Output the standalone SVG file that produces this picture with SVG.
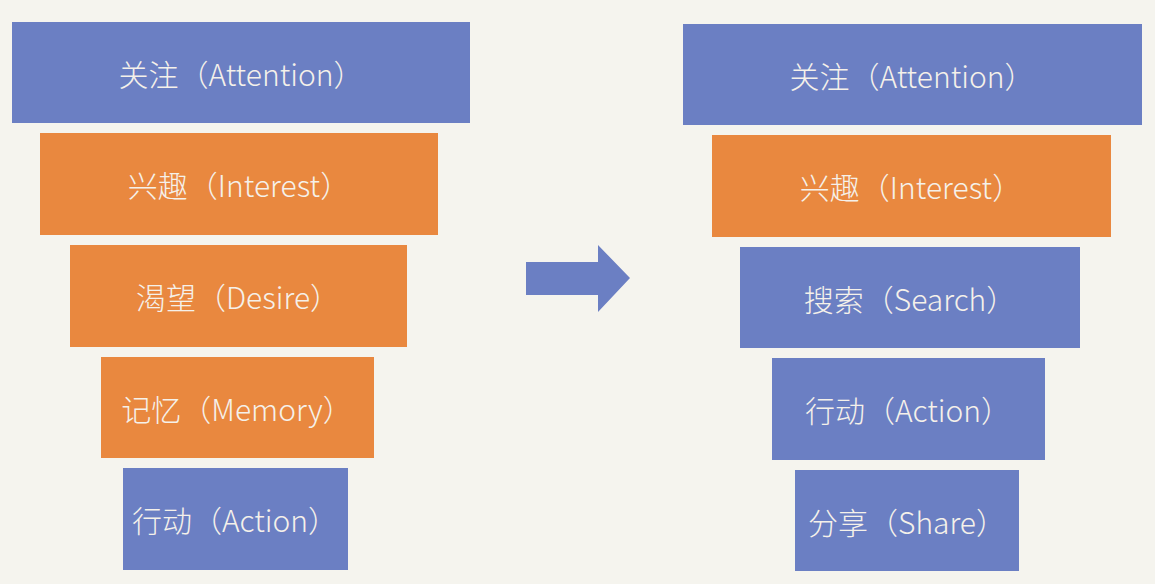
<svg xmlns="http://www.w3.org/2000/svg" width="1155" height="584" viewBox="0 0 1155 584">
<style>
.blue{fill:#6b7fc3}
.orange{fill:#e9883f}
.lbl{font-family:"Noto Sans CJK SC","Noto Sans",sans-serif;font-size:30px;font-weight:300;fill:#f5f1ea;text-anchor:middle;dominant-baseline:central}
</style>
<rect width="1155" height="584" fill="#f5f4ee"/>
<g id="left-attention"><rect class="blue" x="12" y="22" width="458" height="101"/><text class="lbl" x="241" y="73">关注（Attention）</text></g>
<g id="left-interest"><rect class="orange" x="40" y="133" width="398" height="102"/><text class="lbl" x="239" y="184">兴趣（Interest）</text></g>
<g id="left-desire"><rect class="orange" x="70" y="245" width="337" height="102"/><text class="lbl" x="238" y="296">渴望（Desire）</text></g>
<g id="left-memory"><rect class="orange" x="101" y="357" width="273" height="101"/><text class="lbl" x="237" y="408">记忆（Memory）</text></g>
<g id="left-action"><rect class="blue" x="123" y="468" width="225" height="102"/><text class="lbl" x="235" y="519">行动（Action）</text></g>
<g id="connectors"><polygon class="blue" points="526,262 598,262 598,245 630,278 598,312 598,295 526,295"/></g>
<g id="right-attention"><rect class="blue" x="683" y="24" width="459" height="101"/><text class="lbl" x="912" y="75">关注（Attention）</text></g>
<g id="right-interest"><rect class="orange" x="712" y="135" width="399" height="102"/><text class="lbl" x="911" y="186">兴趣（Interest）</text></g>
<g id="right-search"><rect class="blue" x="740" y="247" width="340" height="101"/><text class="lbl" x="910" y="298">搜索（Search）</text></g>
<g id="right-action"><rect class="blue" x="772" y="358" width="273" height="102"/><text class="lbl" x="908" y="409">行动（Action）</text></g>
<g id="right-share"><rect class="blue" x="795" y="470" width="224" height="101"/><text class="lbl" x="907" y="521">分享（Share）</text></g>
</svg>
